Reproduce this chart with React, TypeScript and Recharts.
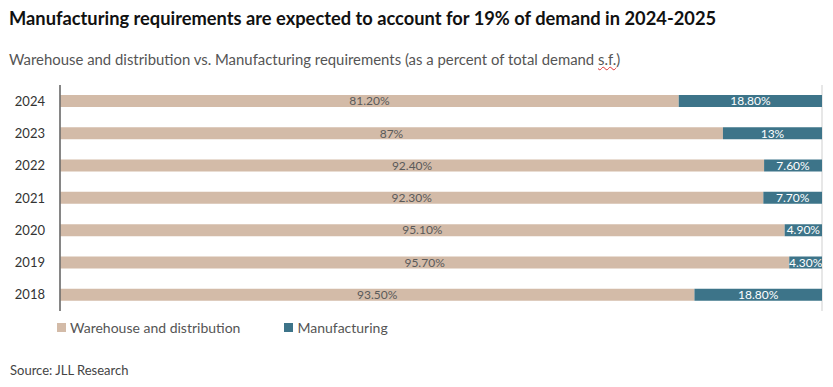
import { BarChart, Bar, XAxis, YAxis, CartesianGrid, LabelList } from 'recharts';

const years = ['2024', '2023', '2022', '2021', '2020', '2019', '2018'];
const warehouse = [81.2, 87, 92.4, 92.3, 95.1, 95.7, 93.5];
const manufacturing = [18.8, 13, 7.6, 7.7, 4.9, 4.3, 18.8];
const gridTicks = [0, 0.1, 0.2, 0.3, 0.4, 0.5, 0.6, 0.7, 0.8, 0.9, 1];

const TAN = '#D3BBA8';
const TEAL = '#3D7489';
const FONT = 'Lato, "Open Sans", sans-serif';

// "87" -> "87%", "81.2" -> "81.20%"
const fmt = (v: number) => (Number.isInteger(v) ? `${v}%` : `${v.toFixed(2)}%`);

const data = years.map((y, i) => ({
  year: y,
  warehouse: warehouse[i],
  manufacturing: manufacturing[i],
  warehouseLabel: fmt(warehouse[i]),
  manufacturingLabel: fmt(manufacturing[i]),
}));

export default function App() {
  return (
    <div style={{ position: 'absolute', left: 0, top: 0, width: 833, height: 387, background: '#fff', fontFamily: FONT }}>
      <div style={{ position: 'absolute', left: 9, top: 7, fontSize: 18.3, fontWeight: 700, color: '#111', whiteSpace: 'nowrap' }}>
        Manufacturing requirements are expected to account for 19% of demand in 2024-2025
      </div>
      <div style={{ position: 'absolute', left: 9, top: 50, fontSize: 14.9, color: '#555', whiteSpace: 'nowrap' }}>
        Warehouse and distribution vs. Manufacturing requirements (as a percent of total demand{' '}
        <span style={{ textDecoration: 'underline wavy #d33', textDecorationThickness: 1 }}>s.f.</span>)
      </div>

      <div style={{ position: 'absolute', left: 0, top: 0 }}>
        <BarChart
          width={833}
          height={387}
          data={data}
          layout="vertical"
          stackOffset="expand"
          barSize={12}
          margin={{ top: 85, right: 11, bottom: 76, left: 0 }}
        >
          <CartesianGrid horizontal={false} stroke="#cfcfcf" strokeWidth={1} />
          <XAxis type="number" domain={[0, 1]} ticks={gridTicks} height={0} tick={false} axisLine={false} tickLine={false} />
          <YAxis
            type="category"
            dataKey="year"
            width={60}
            axisLine={{ stroke: '#666', strokeWidth: 1.5 }}
            tickLine={false}
            tickSize={6}
            tickMargin={9}
            tick={{ fill: '#333', fontSize: 13, fontFamily: FONT }}
          />
          <Bar dataKey="warehouse" stackId="a" fill={TAN} isAnimationActive={false}>
            <LabelList dataKey="warehouseLabel" position="center" fill="#5a5a5a" fontSize={12} fontFamily={FONT} />
          </Bar>
          <Bar dataKey="manufacturing" stackId="a" fill={TEAL} isAnimationActive={false}>
            <LabelList dataKey="manufacturingLabel" position="center" fill="#fff" fontSize={12} fontFamily={FONT} />
          </Bar>
        </BarChart>
      </div>

      <div style={{ position: 'absolute', left: 57, top: 319, display: 'flex', alignItems: 'center', fontSize: 14, color: '#555' }}>
        <span style={{ width: 9, height: 9, background: TAN, marginRight: 4 }} />
        <span>Warehouse and distribution</span>
        <span style={{ width: 9, height: 9, background: TEAL, marginLeft: 44, marginRight: 4 }} />
        <span>Manufacturing</span>
      </div>

      <div style={{ position: 'absolute', left: 10, top: 362, fontSize: 13, color: '#444' }}>Source: JLL Research</div>
    </div>
  );
}
